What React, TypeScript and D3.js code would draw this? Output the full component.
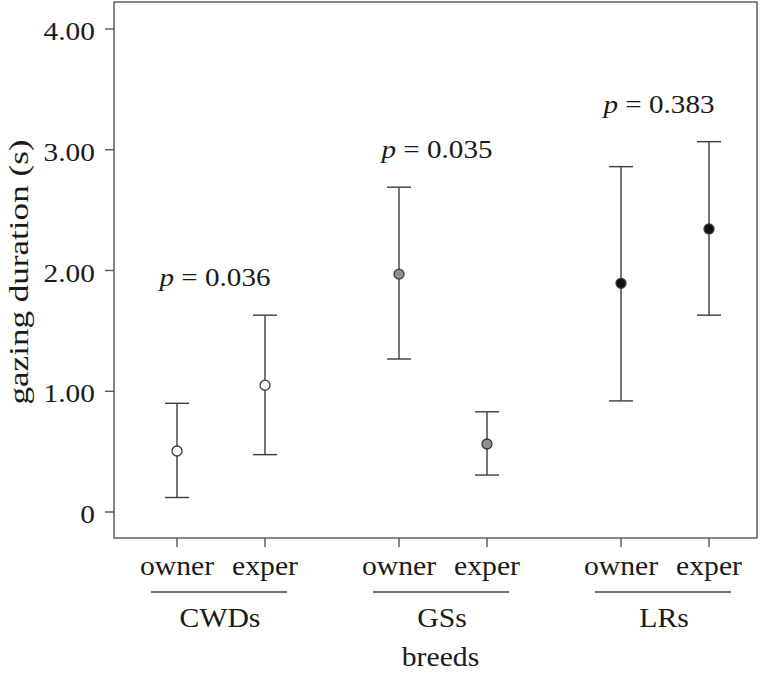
import React from 'react';
import * as d3 from 'd3';

// breeds and the two conditions within each breed
const breeds = ['CWDs', 'GSs', 'LRs'];
const conditions = ['owner', 'exper'];

// mean gazing duration (s) and the error-bar ends
const means = [
  [0.505, 1.05],
  [1.97, 0.563],
  [1.894, 2.344],
];
const lower = [
  [0.12, 0.475],
  [1.267, 0.306],
  [0.92, 1.63],
];
const upper = [
  [0.9, 1.63],
  [2.69, 0.83],
  [2.86, 3.067],
];
const pValues = ['0.036', '0.035', '0.383'];
const markerFill = ['#ffffff', '#8e8e8e', '#111111'];

const yTicks = [0, 1, 2, 3, 4];
const yTickLabel = (v: number) => (v === 0 ? '0' : v.toFixed(2));

const W = 761;
const H = 677;
const frame = { left: 114, right: 757, top: 2, bottom: 538 };
const serif = 'Liberation Serif, Times New Roman, Times, serif';
const lineColor = '#3c3c3c';

// text stretched along its own direction, as in the original rendering
const Label = ({ x, y, size, sx = 1.15, anchor = 'middle', rotate = 0, children }: any) => (
  <text
    transform={`translate(${x},${y}) rotate(${rotate}) scale(${sx},1)`}
    textAnchor={anchor}
    style={{ fontFamily: serif, fontSize: size }}
    fill="#1a1a1a"
  >
    {children}
  </text>
);

const App = () => {
  const y = d3.scaleLinear().domain([0, 4]).range([512, 29]);
  const xGroup = d3.scaleBand<string>().domain(breeds).range([110, 776]);
  const xInner = d3.scalePoint<string>().domain(conditions).range([-44, 44]);
  const groupCenter = (b: string) => (xGroup(b) as number) + xGroup.bandwidth() / 2;
  const xPos = (b: string, c: string) => groupCenter(b) + (xInner(c) as number);
  const capHalf = 12;

  return (
    <svg
      width={W}
      height={H}
      style={{ position: 'absolute', left: 0, top: 0, background: '#fff' }}
    >
      {/* frame */}
      <rect
        x={frame.left}
        y={frame.top}
        width={frame.right - frame.left}
        height={frame.bottom - frame.top}
        fill="none"
        stroke="#555"
        strokeWidth={1.4}
      />

      {/* y axis */}
      {yTicks.map((t) => (
        <g key={t}>
          <line x1={105} x2={frame.left} y1={y(t)} y2={y(t)} stroke="#555" strokeWidth={1.4} />
          <Label x={95} y={y(t) + 11} size={26} sx={1.13} anchor="end">
            {yTickLabel(t)}
          </Label>
        </g>
      ))}
      <Label x={28} y={(frame.top + frame.bottom) / 2 + 2} size={27} sx={1.3} rotate={-90}>
        gazing duration (s)
      </Label>

      {/* x axis */}
      {breeds.map((b) => (
        <g key={b}>
          {conditions.map((c) => (
            <g key={c}>
              <line
                x1={xPos(b, c)}
                x2={xPos(b, c)}
                y1={frame.bottom}
                y2={frame.bottom + 9}
                stroke="#555"
                strokeWidth={1.4}
              />
              <Label x={xPos(b, c)} y={575} size={27} sx={1.1}>
                {c}
              </Label>
            </g>
          ))}
          <line
            x1={groupCenter(b) - 70}
            x2={groupCenter(b) + 66}
            y1={592}
            y2={592}
            stroke={lineColor}
            strokeWidth={1.4}
          />
          <Label x={groupCenter(b) - 1} y={627} size={27} sx={1.1}>
            {b}
          </Label>
        </g>
      ))}
      <Label x={(frame.left + frame.right) / 2 + 5} y={666} size={27} sx={1.1}>
        breeds
      </Label>

      {/* error bars and means */}
      {breeds.map((b, i) => (
        <g key={b}>
          {conditions.map((c, j) => {
            const cx = xPos(b, c);
            return (
              <g key={c}>
                <line x1={cx} x2={cx} y1={y(lower[i][j])} y2={y(upper[i][j])} stroke={lineColor} strokeWidth={1.4} />
                <line x1={cx - capHalf} x2={cx + capHalf} y1={y(upper[i][j])} y2={y(upper[i][j])} stroke={lineColor} strokeWidth={1.4} />
                <line x1={cx - capHalf} x2={cx + capHalf} y1={y(lower[i][j])} y2={y(lower[i][j])} stroke={lineColor} strokeWidth={1.4} />
                <circle cx={cx} cy={y(means[i][j])} r={5} fill={markerFill[i]} stroke="#3a3a3a" strokeWidth={1.3} />
              </g>
            );
          })}
          <text
            transform={`translate(${groupCenter(b) - 6},${y(d3.max(upper[i]) as number) - 29}) scale(1.12,1)`}
            textAnchor="middle"
            style={{ fontFamily: serif, fontSize: 26 }}
            fill="#1a1a1a"
          >
            <tspan fontStyle="italic">p</tspan>
            <tspan> = {pValues[i]}</tspan>
          </text>
        </g>
      ))}
    </svg>
  );
};

export default App;
